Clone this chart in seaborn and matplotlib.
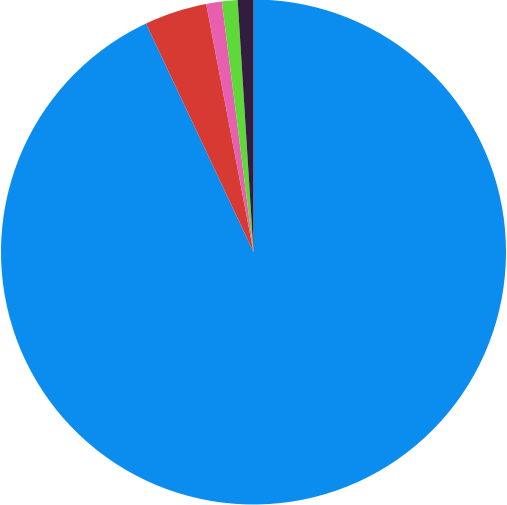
import matplotlib
matplotlib.use("Agg")
import matplotlib.pyplot as plt
import seaborn as sns

# slice values (percent), counterclockwise from the top
labels = ["A", "B", "C", "D", "E"]
values = [93, 4, 1, 1, 1]
colors = ["#0A8DEF", "#D63A32", "#E95FB0", "#5FD93A", "#321C3F"]

sns.set_style("white")
palette = sns.color_palette(colors)

fig = plt.figure(figsize=(5.07, 5.06), dpi=100)
ax = fig.add_axes([0, 0, 1, 1])
ax.pie(values, colors=palette, startangle=90, counterclock=False,
       radius=1.0, wedgeprops=dict(linewidth=0))
ax.set_xlim(-1.004, 1.004)
ax.set_ylim(-1.002, 1.002)
ax.set_aspect("equal")
ax.axis("off")

fig.savefig("out.png", dpi=100)
